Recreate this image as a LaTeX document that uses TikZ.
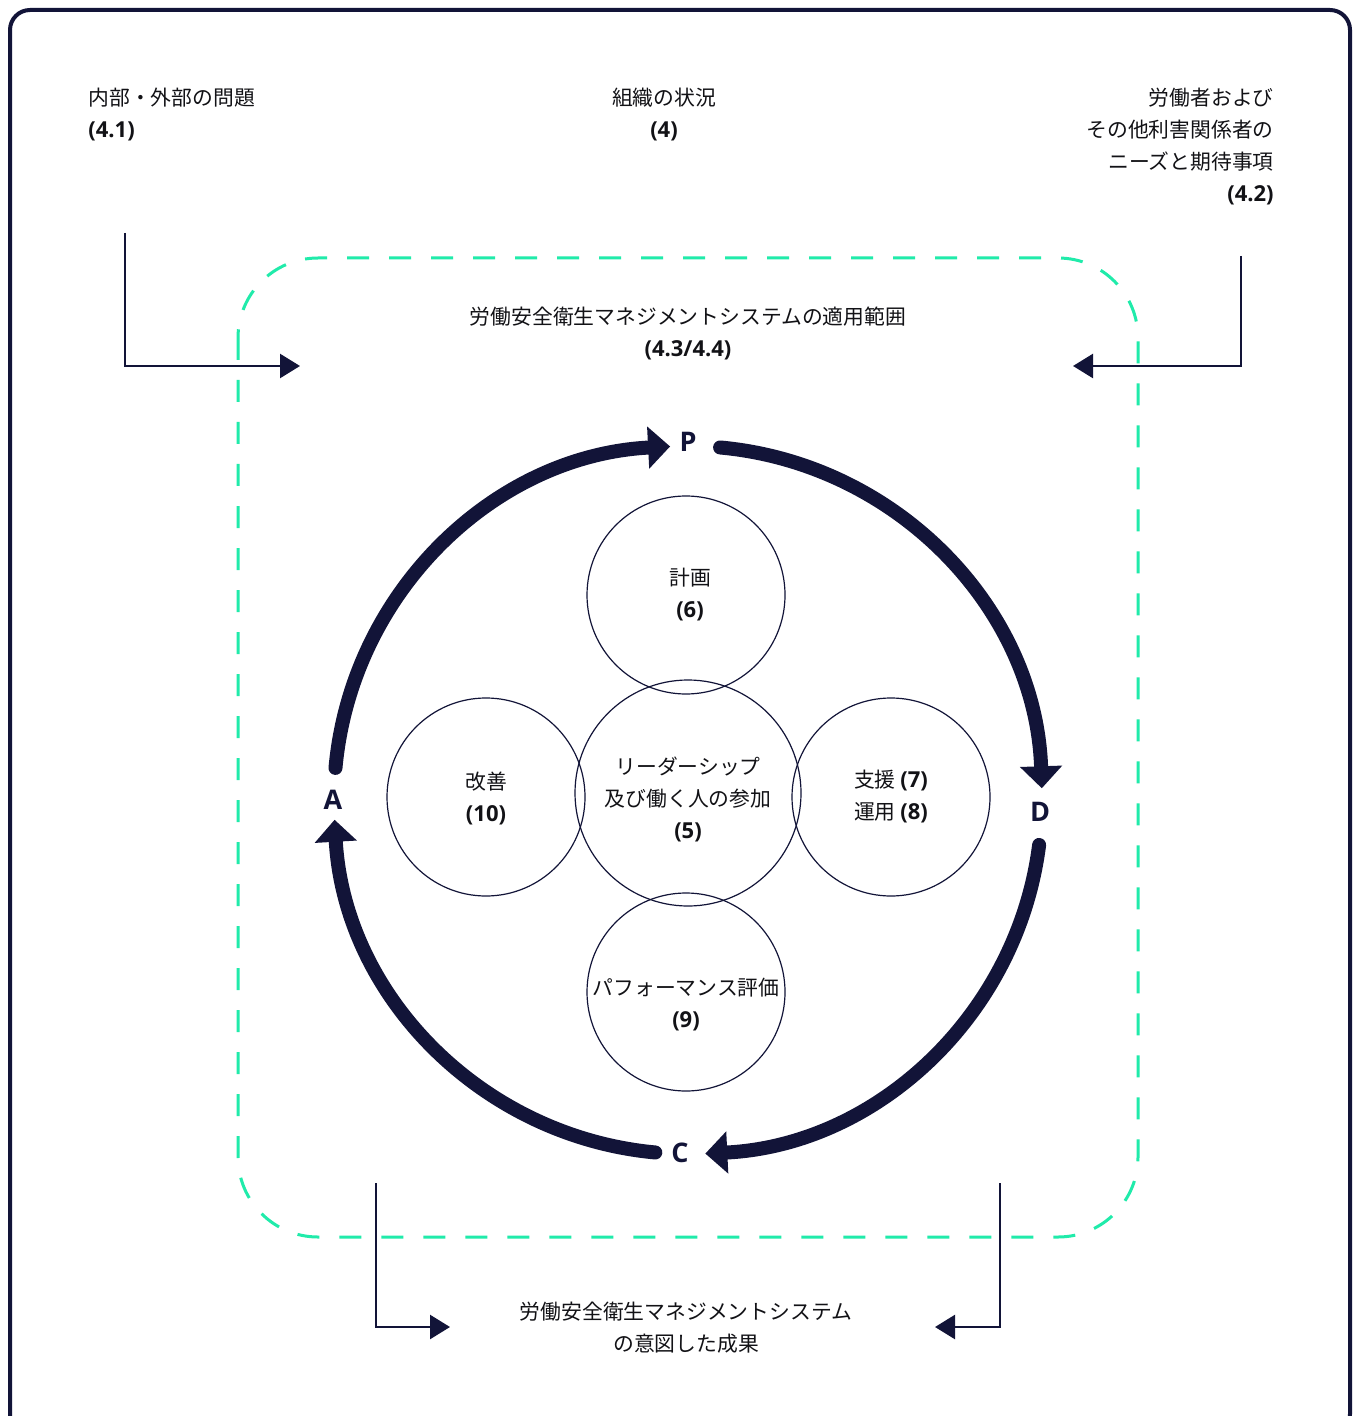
\documentclass[tikz,border=0pt]{standalone}
\usepackage{fontspec}
\setmainfont{Noto Sans CJK JP}
\newfontfamily\numf{Open Sans}
\usetikzlibrary{arrows.meta}
\definecolor{navy}{RGB}{18,20,56}
\definecolor{mint}{RGB}{32,235,170}
\definecolor{ink}{RGB}{18,18,22}
\newcommand{\nb}[1]{{\numf\bfseries\fontsize{11pt}{16pt}\selectfont #1}}
\begin{document}
\begin{tikzpicture}[x=0.5pt,y=-0.5pt,
  txt/.style={font=\fontsize{10.4pt}{16pt}\selectfont, text=ink, inner sep=0pt, align=center},
  pdca/.style={font=\numf\bfseries\fontsize{13.5pt}{15pt}\selectfont, text=navy, inner sep=0pt},
  circ/.style={circle, draw=navy, line width=0.6pt, inner sep=0pt, minimum size=99pt},
  cyc/.style={draw=navy, line width=7pt, line cap=round, -{Triangle[width=20.5pt,length=11pt]}},
  conn/.style={draw=navy, line width=1.25pt, -{Triangle[width=12pt,length=10pt]}},
  frame/.style={draw=navy, line width=2pt, rounded corners=10pt},
  scopebox/.style={draw=mint, line width=1.5pt, dash pattern=on 11pt off 10pt, rounded corners=40pt}]
\useasboundingbox (0,0) rectangle (1356,1416);
\fill[white] (0,0) rectangle (1356,1416);
% outer frame
\draw[frame] (10,10) rectangle (1350,1434);
% scope dashed box
\draw[scopebox] (238,258) rectangle (1138,1237);

% top texts
\node[txt, anchor=west, align=left] (issues) at (88,115) {内部・外部の問題\\\nb{(4.1)}};
\node[txt] (context) at (664,115) {組織の状況\\\nb{(4)}};
\node[txt, anchor=east, align=right] (needs) at (1274,147) {労働者および\\その他利害関係者の\\ニーズと期待事項\\\nb{(4.2)}};
\node[txt] (scope) at (688,333) {労働安全衛生マネジメントシステムの適用範囲\\\nb{(4.3/4.4)}};
\node[txt] (outcome) at (686,1328) {労働安全衛生マネジメントシステム\\の意図した成果};

% circles
\node[circ] (plan) at (686,595) {};
\node[circ] (impr) at (486,797) {};
\node[circ] (supp) at (891,797) {};
\node[circ] (perf) at (686,992) {};
\node[circ, minimum size=113pt] (lead) at (688,793) {};

\node[txt] (plant) at (690,595) {計画\\\nb{(6)}};
\node[txt] (imprt) at (486,798) {改善\\\nb{(10)}};
\node[txt] (leadt) at (688,799) {リーダーシップ\\及び働く人の参加\\\nb{(5)}};
\node[txt] (suppt) at (891,796) {支援 \nb{(7)}\\運用 \nb{(8)}};
\node[txt] (perft) at (686,1005) {パフォーマンス評価\\\nb{(9)}};

% PDCA labels
\node[pdca] (P) at (688,442) {P};
\node[pdca] (D) at (1040,812) {D};
\node[pdca] (C) at (680,1153) {C};
\node[pdca] (A) at (333,800) {A};

% PDCA cycle arcs
\coordinate (ctr) at (688,800);
\draw[cyc] (ctr) ++(-174.8:354) arc[start angle=-174.8, end angle=-92.9, radius=354];
\draw[cyc] (ctr) ++(-84.8:354) arc[start angle=-84.8, end angle=-1.9, radius=354];
\draw[cyc] (ctr) ++(7.3:354) arc[start angle=7.3, end angle=87.2, radius=354];
\draw[cyc] (ctr) ++(95.3:354) arc[start angle=95.3, end angle=176.8, radius=354];

% connectors
\coordinate (c1s) at (125,233);
\coordinate (c1e) at (300,366);
\coordinate (c2s) at (1241,256);
\coordinate (c2e) at (1073,366);
\coordinate (c3s) at (376,1183);
\coordinate (c3e) at (450,1327);
\coordinate (c4s) at (1000,1183);
\coordinate (c4e) at (935,1327);
\draw[conn] (c1s) |- (c1e);
\draw[conn] (c2s) |- (c2e);
\draw[conn] (c3s) |- (c3e);
\draw[conn] (c4s) |- (c4e);
\end{tikzpicture}
\end{document}
